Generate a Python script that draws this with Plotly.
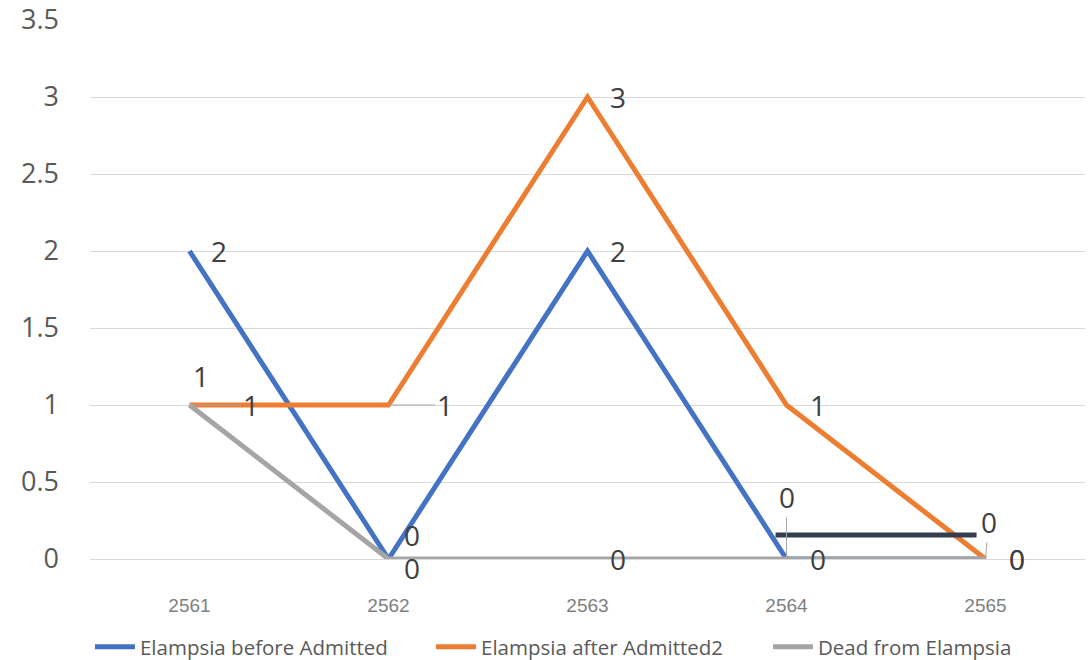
import plotly.graph_objects as go

years = ["2561", "2562", "2563", "2564", "2565"]
before_admitted = [2, 0, 2, 0, 0]
after_admitted2 = [1, 1, 3, 1, 0]
dead_from = [1, 0, 0, 0, 0]
y_ticks = [0, 0.5, 1, 1.5, 2, 2.5, 3, 3.5]
y_ticktext = ["0", "0.5", "1", "1.5", "2", "2.5", "3", "3.5"]

series_names = ["Elampsia before Admitted", "Elampsia after Admitted2", "Dead from Elampsia"]
series_colors = ["#4472C4", "#ED7D31", "#A5A5A5"]
legend_ids = ["legend", "legend2", "legend3"]
legend_x = [0.0826, 0.3958, 0.7052]

# data-label offsets in pixels (dx, dy; dy positive = downward) and whether a leader line is drawn
label_offsets = [
    [(29, 0, False), (23, -24, False), (30, 0, False), (0, -62, True), (31, 0, False)],
    [(61, 0, True), (56, 0, True), (30, 0, False), (31, 0, False), (3, -37, True)],
    [(11, -29, False), (23, 9, False), (30, 0, False), (31, 0, False), (31, 0, False)],
]

# stray dark line segment in the original chart (x in category units, y in value units)
stray_x = [2.945, 3.955]
stray_y = [0.156, 0.156]

xs = list(range(len(years)))
series_vals = [before_admitted, after_admitted2, dead_from]

fig = go.Figure()
for name, col, vals, lg in zip(series_names, series_colors, series_vals, legend_ids):
    fig.add_trace(go.Scatter(
        x=xs, y=vals, mode="lines", name=name, legend=lg,
        line=dict(color=col, width=5),
        cliponaxis=False, hoverinfo="skip",
    ))

fig.add_trace(go.Scatter(
    x=stray_x, y=stray_y, mode="lines", showlegend=False,
    line=dict(color="#333F50", width=5), hoverinfo="skip",
))

label_font = dict(family="Open Sans", size=28, color="#404040")
for vals, offs in zip(series_vals, label_offsets):
    for xi, v, (dx, dy, lead) in zip(xs, vals, offs):
        if lead:
            fig.add_annotation(
                x=xi, y=v, text=str(v), showarrow=True, ax=dx, ay=dy,
                arrowhead=0, arrowwidth=1, arrowcolor="#A6A6A6", standoff=0,
                font=label_font,
            )
        else:
            fig.add_annotation(
                x=xi, y=v, text=str(v), showarrow=False,
                xshift=dx, yshift=-dy, font=label_font,
            )

legend_style = dict(
    orientation="h", xref="container", xanchor="left",
    y=-0.163, yanchor="middle",
    font=dict(family="Open Sans", size=20.5, color="#595959"),
    itemwidth=40, bgcolor="rgba(0,0,0,0)",
)

fig.update_layout(
    template="none",
    width=1089, height=660,
    margin=dict(l=90, r=4, t=20, b=101, autoexpand=False),
    paper_bgcolor="white", plot_bgcolor="white",
    showlegend=True,
    legend=dict(x=legend_x[0], **legend_style),
    legend2=dict(x=legend_x[1], **legend_style),
    legend3=dict(x=legend_x[2], **legend_style),
    xaxis=dict(
        range=[-0.5, 4.5], tickvals=xs, ticktext=years,
        showgrid=False, zeroline=False, showline=False, ticks="",
        tickfont=dict(family="Liberation Sans", size=19, color="#7F7F7F"),
        ticklabelstandoff=33, automargin=False,
    ),
    yaxis=dict(
        range=[0, 3.5], tickvals=y_ticks, ticktext=y_ticktext,
        showgrid=True, gridcolor="#D9D9D9", gridwidth=1,
        zeroline=True, zerolinecolor="#D9D9D9", zerolinewidth=1,
        showline=False, ticks="",
        tickfont=dict(family="Open Sans", size=27, color="#595959"),
        ticklabelstandoff=30, automargin=False,
    ),
)

fig.write_html(
    "out.html",
    config={"displayModeBar": False},
    post_script="document.body.style.margin='0';",
)
